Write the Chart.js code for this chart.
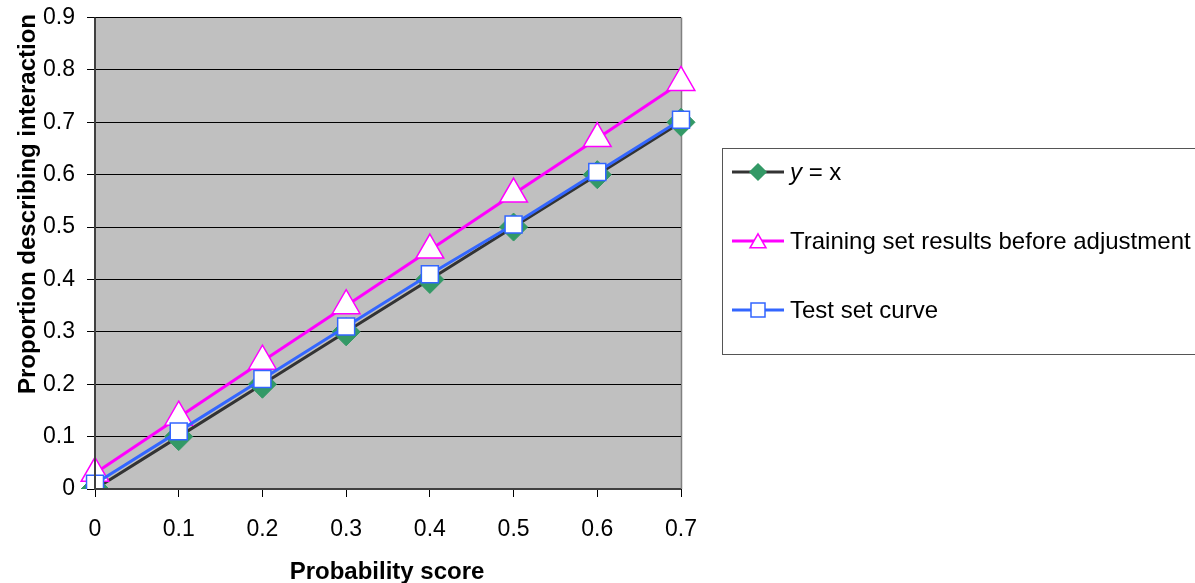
<!DOCTYPE html>
<html>
<head>
<meta charset="utf-8">
<script src="https://cdn.jsdelivr.net/npm/chart.js@4.4.0/dist/chart.umd.min.js"></script>
<style>
html,body{margin:0;padding:0;background:#fff;}
#wrap{width:1195px;height:583px;position:relative;}
</style>
</head>
<body>
<div id="wrap"><canvas id="c" width="1195" height="583"></canvas></div>
<script>
const categories = ['0','0.1','0.2','0.3','0.4','0.5','0.6','0.7'];
const yEqualsX = [0, 0.1, 0.2, 0.3, 0.4, 0.5, 0.6, 0.7];
const trainingBefore = [0.03, 0.137, 0.244, 0.35, 0.456, 0.563, 0.669, 0.776];
const testCurve = [0.01, 0.11, 0.21, 0.31, 0.41, 0.505, 0.605, 0.705];
const seriesNames = ['y = x', 'Training set results before adjustment', 'Test set curve'];
const yTicks = [0, 0.1, 0.2, 0.3, 0.4, 0.5, 0.6, 0.7, 0.8, 0.9];
const xTitle = 'Probability score';
const yTitle = 'Proportion describing interaction';

const FONT = "'Liberation Sans', Arial, sans-serif";

const plotBg = {
  id: 'plotBg',
  beforeDraw(chart) {
    const {ctx, chartArea: a} = chart;
    ctx.save();
    ctx.fillStyle = '#C0C0C0';
    ctx.fillRect(a.left, a.top, a.right - a.left, a.bottom - a.top);
    ctx.strokeStyle = '#808080';
    ctx.lineWidth = 1.5;
    ctx.beginPath();
    ctx.moveTo(a.right + 0.5, a.top);
    ctx.lineTo(a.right + 0.5, a.bottom);
    ctx.stroke();
    ctx.restore();
  },
  afterDatasetsDraw(chart) {
    const {ctx, chartArea: a} = chart;
    ctx.save();
    ctx.strokeStyle = '#404040';
    ctx.lineWidth = 2;
    ctx.beginPath();
    ctx.moveTo(a.left, a.top);
    ctx.lineTo(a.left, a.bottom);
    ctx.lineTo(a.right, a.bottom);
    ctx.stroke();
    ctx.restore();
  }
};

const axisTitles = {
  id: 'axisTitles',
  afterDraw(chart) {
    const ctx = chart.ctx;
    ctx.save();
    ctx.fillStyle = '#000';
    ctx.font = 'bold 24px ' + FONT;
    ctx.textAlign = 'center';
    ctx.textBaseline = 'alphabetic';
    ctx.fillText(xTitle, 387, 579);
    ctx.translate(35, 204);
    ctx.rotate(-Math.PI / 2);
    ctx.fillText(yTitle, 0, 0);
    ctx.restore();
  }
};

function drawMarker(ctx, style, x, y, r) {
  if (style === 'rectRot') {
    ctx.moveTo(x, y - r); ctx.lineTo(x + r, y); ctx.lineTo(x, y + r); ctx.lineTo(x - r, y); ctx.closePath();
  } else if (style === 'triangle') {
    ctx.moveTo(x, y - r * 0.9); ctx.lineTo(x + r, y + r * 0.85); ctx.lineTo(x - r, y + r * 0.85); ctx.closePath();
  } else {
    ctx.rect(x - r, y - r, r * 2, r * 2);
  }
}

const customLegend = {
  id: 'customLegend',
  afterDraw(chart) {
    const ctx = chart.ctx;
    const bx = 722.5, by = 148.5, bw = 480, bh = 206;
    ctx.save();
    ctx.fillStyle = '#fff';
    ctx.fillRect(bx, by, bw, bh);
    ctx.strokeStyle = '#555';
    ctx.lineWidth = 1;
    ctx.strokeRect(bx, by, bw, bh);
    const rows = [172, 241, 310];
    chart.data.datasets.forEach((ds, i) => {
      const y = rows[i];
      ctx.strokeStyle = ds.borderColor;
      ctx.lineWidth = 3;
      ctx.beginPath();
      ctx.moveTo(732, y);
      ctx.lineTo(784, y);
      ctx.stroke();
      ctx.fillStyle = ds.pointBackgroundColor;
      ctx.strokeStyle = ds.pointBorderColor;
      ctx.lineWidth = 1.5;
      ctx.beginPath();
      drawMarker(ctx, ds.pointStyle, 758, y, ds.legendRadius);
      ctx.fill();
      ctx.stroke();
      ctx.fillStyle = '#000';
      ctx.textBaseline = 'middle';
      ctx.textAlign = 'left';
      if (i === 0) {
        ctx.font = 'italic 24px ' + FONT;
        ctx.fillText('y', 790, y + 1);
        const w = ctx.measureText('y').width;
        ctx.font = '24px ' + FONT;
        ctx.fillText(' = x', 790 + w, y + 1);
      } else {
        ctx.font = '24px ' + FONT;
        ctx.fillText(seriesNames[i], 790, y + 1);
      }
    });
    ctx.restore();
  }
};

new Chart(document.getElementById('c'), {
  type: 'line',
  data: {
    labels: categories,
    datasets: [
      {
        label: seriesNames[0], data: yEqualsX, order: 3,
        borderColor: '#333333', borderWidth: 3,
        pointStyle: 'rectRot', pointRadius: 14, pointHoverRadius: 14,
        pointBackgroundColor: '#339966', pointBorderColor: '#339966', pointBorderWidth: 1,
        legendRadius: 8
      },
      {
        label: seriesNames[1], data: trainingBefore, order: 2,
        borderColor: '#FF00FF', borderWidth: 3,
        pointStyle: 'triangle', pointRadius: 16, pointHoverRadius: 16,
        pointBackgroundColor: '#FFFFFF', pointBorderColor: '#FF00FF', pointBorderWidth: 1.5,
        legendRadius: 8
      },
      {
        label: seriesNames[2], data: testCurve, order: 1,
        borderColor: '#3366FF', borderWidth: 3,
        pointStyle: 'rect', pointRadius: 12, pointHoverRadius: 12,
        pointBackgroundColor: '#FFFFFF', pointBorderColor: '#3366FF', pointBorderWidth: 1.5,
        legendRadius: 7
      }
    ]
  },
  options: {
    responsive: false,
    animation: false,
    layout: { padding: { left: 0, right: 514, top: 17, bottom: 0 } },
    plugins: { legend: { display: false }, tooltip: { enabled: false } },
    elements: { line: { tension: 0 } },
    scales: {
      x: {
        offset: false,
        grid: { display: true, drawOnChartArea: false, drawTicks: true, tickLength: 8, color: '#000', lineWidth: 1 },
        border: { display: false },
        ticks: { color: '#000', font: { family: FONT, size: 23 }, padding: 19, maxRotation: 0, autoSkip: false },
        title: { display: false },
        afterFit(s) { s.height = 94; }
      },
      y: {
        min: 0, max: 0.9,
        afterBuildTicks(s) { s.ticks = yTicks.map(v => ({ value: v })); },
        grid: { color: '#000', lineWidth: 1, tickLength: 8, drawTicks: true },
        border: { display: false },
        ticks: { color: '#000', font: { family: FONT, size: 23, lineHeight: 0.5 }, padding: 12, callback: v => String(+v.toFixed(1)) },
        title: { display: false },
        afterFit(s) { s.width = 95; s.paddingTop = 0; }
      }
    }
  },
  plugins: [plotBg, axisTitles, customLegend]
});
</script>
</body>
</html>
